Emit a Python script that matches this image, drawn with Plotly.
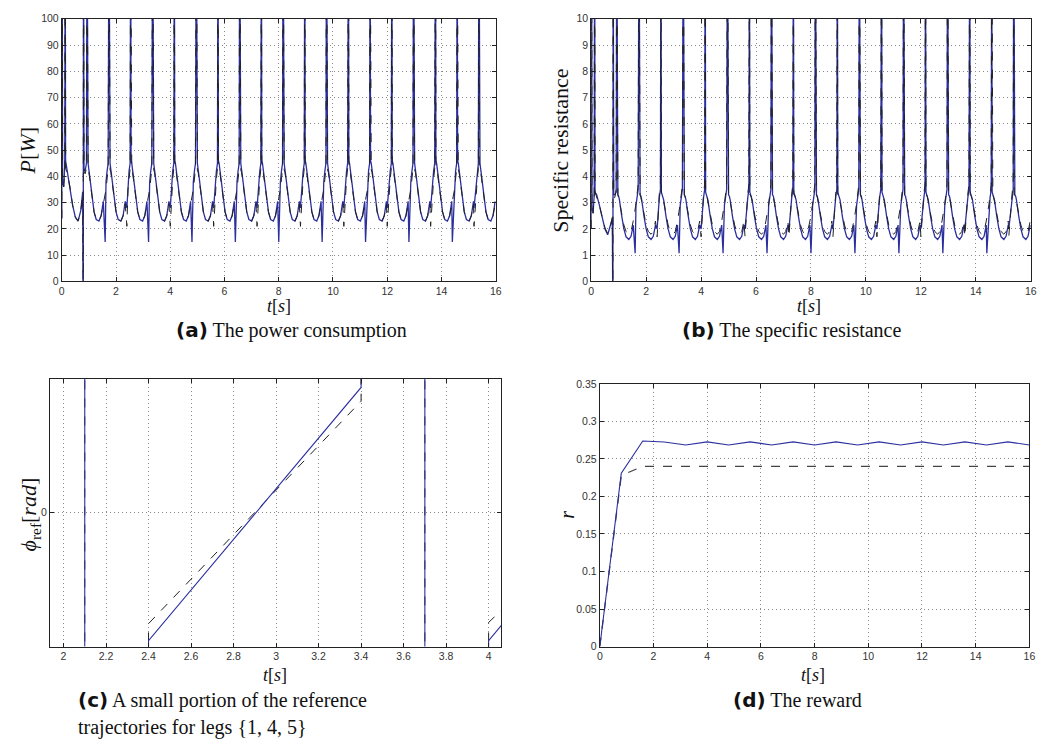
import plotly.graph_objects as go

W, H = 1045, 746

# ---------------- data ----------------
# (a)/(b): periodic gait signals. Times of the big up-spikes (s)
spike_times = [0.93, 1.74, 2.54, 3.35, 4.15, 4.96, 5.76, 6.56, 7.36, 8.16,
               8.96, 9.76, 10.57, 11.37, 12.17, 12.97, 13.78, 14.58, 15.38]
deep_dip_times = [1.6, 3.2, 4.8, 6.4, 8.0, 9.6, 11.2, 12.8, 14.4]
shallow_dip_times = [2.4, 4.0, 5.6, 7.2, 8.8, 10.4, 12.0, 13.6, 15.2]

# one cycle, offsets after each spike (s)
cycle_dt = [0.0, 0.015, 0.04, 0.07, 0.10, 0.18, 0.26, 0.34, 0.44, 0.52, 0.60, 0.70, 0.74, 0.78]

# (a) power consumption P[W]
a_cycle_blue = [150, 46, 45, 42.5, 40, 32, 26.5, 23.6, 23, 25, 30.5, 38, 42, 45]
a_cycle_dash = [150, 43, 42.5, 41.5, 39, 32, 26.5, 23.6, 23, 25, 29.5, 35, 39, 43]
a_init_t = [0.0, 0.015, 0.03, 0.07, 0.11, 0.125, 0.14, 0.2, 0.3, 0.4, 0.5, 0.6, 0.7, 0.77, 0.79, 0.80, 0.82, 0.86, 0.91]
a_init_blue = [24, 150, 38, 36, 44, 150, 46, 42, 36, 29, 24.5, 23, 27, 34, -20, 150, 43, 42, 45]
a_init_dash = [24, 150, 38, 36, 43, 150, 43, 41.5, 36, 29, 24.5, 23, 26.5, 33, -20, 150, 42, 41, 43]
a_blue_deep, a_blue_shallow, a_dash_shallow = 15, 28, 21

# (b) specific resistance
b_cycle_blue = [15, 3.4, 3.3, 3.25, 3.1, 2.5, 2.0, 1.7, 1.6, 1.72, 2.15, 2.9, 3.2, 3.5]
b_cycle_dash = [15, 3.3, 3.3, 3.2, 3.05, 2.55, 2.15, 1.9, 1.8, 1.9, 2.3, 2.95, 3.35, 3.7]
b_init_blue = [2.0, 15, 2.8, 2.6, 3.3, 15, 3.4, 3.3, 2.9, 2.4, 2.0, 1.78, 2.1, 2.4, -2, 15, 3.3, 3.3, 3.4]
b_init_dash = [2.0, 15, 2.8, 2.6, 3.3, 15, 3.4, 3.2, 2.9, 2.45, 2.05, 1.82, 2.1, 2.45, -2, 15, 3.2, 3.2, 3.5]
b_blue_deep, b_blue_shallow, b_dash_shallow = 1.08, 2.0, 1.7

# (c) reference trajectory phi_ref (rad), None = break
c_t_blue = [2.1, 2.1, None, 2.4, 2.4, 3.4, 3.4, None, 3.7, 3.7, None, 4.0, 4.0, 4.06]
c_phi_blue = [-1.5, 1.5, None, -1.5, -0.956, 0.936, 1.5, None, -1.5, 1.5, None, -1.5, -0.956, -0.842]
c_t_dash = [2.1, 2.1, None, 2.4, 2.4, 3.4, 3.4, None, 3.7, 3.7, None, 4.0, 4.0, 4.06]
c_phi_dash = [-1.5, 1.5, None, -1.5, -0.829, 0.833, 1.5, None, -1.5, 1.5, None, -1.5, -0.82, -0.729]

# (d) reward
d_t = [0, 0.8, 1.6, 2.4, 3.2, 4.0, 4.8, 5.6, 6.4, 7.2, 8.0, 8.8, 9.6, 10.4,
       11.2, 12.0, 12.8, 13.6, 14.4, 15.2, 16.0]
d_blue = [0, 0.231, 0.2738, 0.2725, 0.2686, 0.2726, 0.2686, 0.2726, 0.2686, 0.2726,
          0.2686, 0.2726, 0.2686, 0.2726, 0.2686, 0.2726, 0.2686, 0.2726, 0.2686,
          0.2726, 0.2686]
d_dash = [0, 0.228, 0.2400, 0.2400, 0.2400, 0.2400, 0.2400, 0.2400, 0.2400, 0.2400,
          0.2400, 0.2400, 0.2400, 0.2400, 0.2400, 0.2400, 0.2400, 0.2400, 0.2400,
          0.2400, 0.2400]


def build(init_t, init_v, cyc_v, dips):
    pts = list(zip(init_t, init_v))
    for i, ts in enumerate(spike_times):
        nxt = spike_times[i + 1] if i + 1 < len(spike_times) else 16.0
        cyc = [(ts + dt, v) for dt, v in zip(cycle_dt, cyc_v) if ts + dt < nxt]
        for dt_list, val in dips:
            for d in dt_list:
                if ts < d < nxt:
                    cyc.append((d, val))
        cyc.sort()
        pts += cyc
    return [p[0] for p in pts], [p[1] for p in pts]


a_tb, a_vb = build(a_init_t, a_init_blue, a_cycle_blue,
                   [(deep_dip_times, a_blue_deep), (shallow_dip_times, a_blue_shallow)])
a_td, a_vd = build(a_init_t, a_init_dash, a_cycle_dash, [(shallow_dip_times, a_dash_shallow)])
b_tb, b_vb = build(a_init_t, b_init_blue, b_cycle_blue,
                   [(deep_dip_times, b_blue_deep), (shallow_dip_times, b_blue_shallow)])
b_td, b_vd = build(a_init_t, b_init_dash, b_cycle_dash, [(shallow_dip_times, b_dash_shallow)])

BLUE = "#2b2f9e"
DASH = "#222222"

fig = go.Figure()


def add(t, v, xa, ya, color, dash, width):
    fig.add_trace(go.Scatter(x=t, y=v, mode="lines", xaxis=xa, yaxis=ya,
                             line=dict(color=color, dash=dash, width=width),
                             showlegend=False, hoverinfo="skip", connectgaps=False))


add(a_tb, a_vb, "x", "y", BLUE, "solid", 1.3)
add(a_td, a_vd, "x", "y", DASH, "dash", 1.0)
add(b_tb, b_vb, "x2", "y2", BLUE, "solid", 1.3)
add(b_td, b_vd, "x2", "y2", DASH, "dash", 1.0)
add(c_t_dash, c_phi_dash, "x3", "y3", DASH, "dash", 1.0)
add(c_t_blue, c_phi_blue, "x3", "y3", BLUE, "solid", 1.1)
add(d_t, d_dash, "x4", "y4", "#444444", "dash", 1.3)
add(d_t, d_blue, "x4", "y4", BLUE, "solid", 1.1)


def px_dom_x(x0, x1):
    return [x0 / W, x1 / W]


def px_dom_y(y0, y1):  # y0 top, y1 bottom in pixels
    return [1 - y1 / H, 1 - y0 / H]


def axis(domain, rng, anchor, **kw):
    d = dict(domain=domain, range=rng, anchor=anchor, showline=True, mirror="ticks",
             linecolor="#222", linewidth=1, ticks="inside", ticklen=4, tickcolor="#222",
             showgrid=True, gridcolor="#8a8a8a", griddash="1px,3px", gridwidth=1,
             zeroline=False, tickfont=dict(family="Liberation Sans, Arial", size=10.5, color="#333"))
    d.update(kw)
    return d


fig.update_layout(
    width=W, height=H, margin=dict(l=0, r=0, t=0, b=0),
    paper_bgcolor="white", plot_bgcolor="white",
    xaxis=axis(px_dom_x(59.3, 497), [0, 16], "y", dtick=2),
    yaxis=axis(px_dom_y(13, 280), [0, 100], "x", dtick=10),
    xaxis2=axis(px_dom_x(593.3, 1036.7), [0, 16], "y2", dtick=2),
    yaxis2=axis(px_dom_y(13, 280), [0, 10], "x2", dtick=1),
    xaxis3=axis(px_dom_x(47.3, 502.7), [1.936, 4.06], "y3", tickvals=[2, 2.2, 2.4, 2.6, 2.8, 3, 3.2, 3.4, 3.6, 3.8, 4]),
    yaxis3=axis(px_dom_y(379, 651), [-1, 1], "x3", tickvals=[0]),
    xaxis4=axis(px_dom_x(602, 1035.3), [0, 16], "y4", dtick=2),
    yaxis4=axis(px_dom_y(384, 651), [0, 0.35], "x4", dtick=0.05),
)

SERIF = "Liberation Serif, Times New Roman, serif"


def ann(x, y, text, size=21, angle=0, xanchor="center", family=SERIF):
    fig.add_annotation(x=x / W, y=1 - y / H, xref="paper", yref="paper", text=text,
                       showarrow=False, textangle=angle, xanchor=xanchor, yanchor="middle",
                       borderpad=0, font=dict(family=family, size=size, color="#111"))


# axis titles
ann(278, 305, "<i>t</i>[<i>s</i>]", 18)
ann(813, 305, "<i>t</i>[<i>s</i>]", 18)
ann(274, 680, "<i>t</i>[<i>s</i>]", 18)
ann(817, 680, "<i>t</i>[<i>s</i>]", 18)
ann(25, 147, "<i>P</i>[<i>W</i>]", 22, -90)
ann(562, 147, "Specific resistance", 22, -90)
ann(27, 517, "<i>ϕ</i><sub>ref</sub>[<i>rad</i>]", 22, -90)
ann(569, 517, "<i>r</i>", 20, -90)

BOLD = '<span style="font-family:DejaVu Sans, Open Sans, sans-serif"><b>{}</b></span>'
ann(291, 329, BOLD.format("(a)") + " The power consumption", 20)
ann(796, 329, BOLD.format("(b)") + " The specific resistance", 20)
ann(75, 705, BOLD.format("(c)") + " A small portion of the reference", 20, xanchor="left")
ann(75, 733, "trajectories for legs {1, 4, 5}", 20, xanchor="left")
ann(801, 705, BOLD.format("(d)") + " The reward", 20)

fig.write_html("out.html", config={"displayModeBar": False},
               post_script="document.body.style.margin='0';document.body.style.overflow='hidden';")
